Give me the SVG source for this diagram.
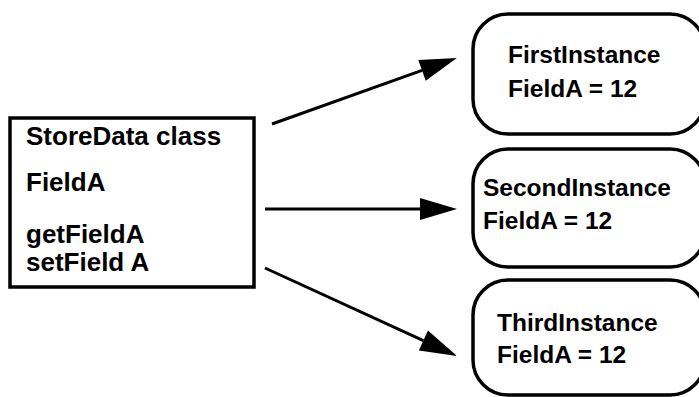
<svg xmlns="http://www.w3.org/2000/svg" width="699" height="397" viewBox="0 0 699 397">
  <style>
    .box { fill: #ffffff; stroke: #000000; stroke-width: 3.5; }
    .lbl { font-family: "Liberation Sans", Arial, sans-serif; font-weight: bold; font-size: 24.5px; fill: #000000; }
    .cls { font-size: 26px; }
    .link { stroke: #000000; stroke-width: 3; fill: none; marker-end: url(#head); }
  </style>
  <defs>
    <marker id="head" markerUnits="userSpaceOnUse" markerWidth="38" markerHeight="24" refX="0" refY="11" orient="auto" overflow="visible">
      <path d="M0,0 L37,11 L0,22 Z" fill="#000000"/>
    </marker>
  </defs>
  <rect width="699" height="397" fill="#ffffff"/>

  <!-- class box -->
  <g id="storedata">
    <rect class="box" x="10" y="118" width="244" height="169"/>
    <text class="lbl cls" x="26" y="145">StoreData class</text>
    <text class="lbl cls" x="26" y="191">FieldA</text>
    <text class="lbl cls" x="26" y="243">getFieldA</text>
    <text class="lbl cls" x="26" y="271">setField A</text>
  </g>

  <!-- instances -->
  <g id="first">
    <rect class="box" x="473" y="14" width="232" height="120" rx="35" ry="35"/>
    <text class="lbl" x="508" y="63">FirstInstance</text>
    <text class="lbl" x="508" y="97">FieldA = 12</text>
  </g>
  <g id="second">
    <rect class="box" x="473" y="149" width="232" height="118" rx="35" ry="35"/>
    <text class="lbl" x="483" y="196">SecondInstance</text>
    <text class="lbl" x="483" y="229">FieldA = 12</text>
  </g>
  <g id="third">
    <rect class="box" x="473" y="280" width="232" height="115" rx="35" ry="35"/>
    <text class="lbl" x="497" y="331">ThirdInstance</text>
    <text class="lbl" x="497" y="363">FieldA = 12</text>
  </g>

  <!-- connectors -->
  <g id="connectors">
    <line class="link" x1="272" y1="124" x2="422" y2="70.4"/>
    <line class="link" x1="265" y1="209" x2="420" y2="209"/>
    <line class="link" x1="265" y1="268" x2="423.4" y2="340.6"/>
  </g>
</svg>
